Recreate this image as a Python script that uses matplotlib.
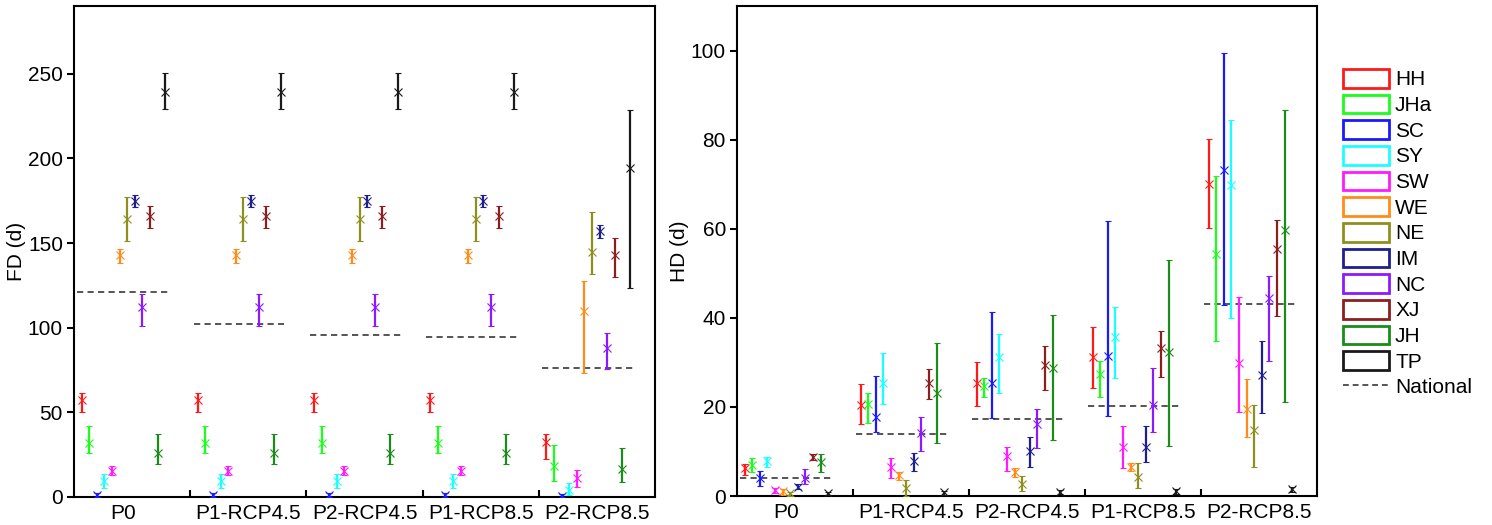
import matplotlib.pyplot as plt
from matplotlib.patches import Patch
from matplotlib.lines import Line2D
import numpy as np

plt.rcParams['font.family'] = ['Liberation Sans', 'DejaVu Sans']

# scenarios and regions
scenarios = ["P0", "P1-RCP4.5", "P2-RCP4.5", "P1-RCP8.5", "P2-RCP8.5"]
regions = ["HH", "JHa", "SC", "SY", "SW", "WE", "NE", "IM", "NC", "XJ", "JH", "TP"]
region_colors = ["#ff1a1a", "#1aff1a", "#1a1aff", "#1affff", "#ff1aff", "#ff8c1a",
                 "#8f8f1f", "#1f1f8f", "#8c1aff", "#8b1f1f", "#1a8c1a", "#1a1a1a"]

# FD (d): mean, lower, upper per region (rows) x scenario (cols)
fd_mid = [
    [57.0, 57.0, 57.0, 57.0, 32.7],
    [32.0, 32.0, 32.0, 32.0, 18.3],
    [1.0, 1.0, 1.0, 1.0, 0.6],
    [9.4, 9.4, 9.4, 9.4, 4.1],
    [15.4, 15.4, 15.4, 15.4, 11.0],
    [142.7, 142.7, 142.7, 142.7, 109.8],
    [164.0, 164.0, 164.0, 164.0, 144.9],
    [174.8, 174.8, 174.8, 174.8, 157.0],
    [112.2, 112.2, 112.2, 112.2, 88.2],
    [166.0, 166.0, 166.0, 166.0, 142.9],
    [26.2, 26.2, 26.2, 26.2, 16.3],
    [239.4, 239.4, 239.4, 239.4, 194.5],
]
fd_lo = [
    [50.0, 50.0, 50.0, 50.0, 22.2],
    [26.2, 26.2, 26.2, 26.2, 9.4],
    [0.0, 0.0, 0.0, 0.0, 0.0],
    [5.5, 5.5, 5.5, 5.5, 1.2],
    [13.0, 13.0, 13.0, 13.0, 5.9],
    [138.4, 138.4, 138.4, 138.4, 73.4],
    [151.2, 151.2, 151.2, 151.2, 131.9],
    [171.5, 171.5, 171.5, 171.5, 152.8],
    [101.0, 101.0, 101.0, 101.0, 75.8],
    [158.7, 158.7, 158.7, 158.7, 129.9],
    [19.7, 19.7, 19.7, 19.7, 8.9],
    [229.0, 229.0, 229.0, 229.0, 123.6],
]
fd_hi = [
    [61.6, 61.6, 61.6, 61.6, 37.4],
    [41.9, 41.9, 41.9, 41.9, 30.5],
    [2.2, 2.2, 2.2, 2.2, 1.5],
    [13.4, 13.4, 13.4, 13.4, 8.3],
    [18.3, 18.3, 18.3, 18.3, 15.7],
    [146.3, 146.3, 146.3, 146.3, 127.6],
    [177.2, 177.2, 177.2, 177.2, 168.5],
    [178.1, 178.1, 178.1, 178.1, 160.4],
    [119.7, 119.7, 119.7, 119.7, 96.7],
    [171.9, 171.9, 171.9, 171.9, 152.8],
    [37.4, 37.4, 37.4, 37.4, 29.1],
    [250.2, 250.2, 250.2, 250.2, 228.3],
]
fd_national = [121.0, 102.0, 95.7, 94.7, 76.2]

# HD (d)
hd_mid = [
    [6.2, 20.4, 25.3, 31.1, 70.1],
    [7.0, 20.7, 24.6, 27.5, 54.3],
    [4.0, 17.8, 25.3, 31.4, 73.2],
    [7.9, 25.3, 31.3, 35.8, 69.8],
    [1.3, 6.4, 9.0, 11.1, 29.8],
    [1.1, 4.7, 5.5, 6.6, 19.5],
    [0.6, 1.9, 2.8, 4.3, 14.8],
    [2.1, 7.9, 10.2, 11.1, 27.2],
    [4.0, 14.1, 16.2, 20.4, 44.4],
    [8.7, 25.4, 29.4, 33.2, 55.4],
    [7.7, 23.1, 28.7, 32.4, 59.7],
    [0.6, 0.8, 1.0, 1.1, 1.5],
]
hd_lo = [
    [4.7, 16.2, 20.2, 24.2, 60.1],
    [5.5, 16.3, 22.3, 22.3, 34.9],
    [2.2, 14.3, 17.4, 18.0, 42.9],
    [6.4, 20.7, 23.1, 26.4, 39.9],
    [0.7, 4.0, 5.7, 6.2, 18.9],
    [0.3, 3.6, 4.3, 5.6, 13.3],
    [0.0, 0.0, 1.2, 1.9, 6.6],
    [1.5, 5.7, 6.4, 7.7, 18.7],
    [2.7, 10.0, 10.7, 14.4, 30.4],
    [8.1, 21.7, 23.8, 26.8, 40.4],
    [5.5, 12.0, 12.6, 11.2, 21.2],
    [0.2, 0.3, 0.4, 0.5, 0.8],
]
hd_hi = [
    [7.2, 25.1, 30.0, 38.0, 80.1],
    [8.5, 23.1, 26.4, 30.3, 71.9],
    [5.7, 26.9, 41.4, 61.8, 99.4],
    [8.7, 32.2, 36.3, 42.5, 84.3],
    [1.9, 8.5, 11.1, 15.7, 44.6],
    [1.6, 5.5, 6.2, 7.5, 26.2],
    [1.0, 3.6, 4.5, 7.5, 20.4],
    [2.7, 9.6, 13.3, 15.7, 34.7],
    [6.0, 17.7, 19.5, 28.8, 49.4],
    [9.4, 28.4, 33.7, 37.0, 62.0],
    [9.4, 34.3, 40.6, 53.0, 86.7],
    [1.0, 1.2, 1.4, 1.5, 2.0],
]
hd_national = [4.1, 13.9, 17.3, 20.3, 43.1]

W, H = 1492, 525
fig = plt.figure(figsize=(W / 100, H / 100), dpi=100)
ax1 = fig.add_axes([74 / W, 28 / H, 581 / W, 491 / H])
ax2 = fig.add_axes([737 / W, 29 / H, 580 / W, 490 / H])

FS = 15
offsets = 0.065 + 0.0655 * np.arange(len(regions))
label_pos = [0.42, 1.5, 2.5, 3.5, 4.5]


def draw_panel(ax, mid, lo, hi, national, ylim, yticks, ylabel):
    for i, reg in enumerate(regions):
        x = np.arange(len(scenarios)) + offsets[i]
        m = np.array(mid[i])
        err = [m - np.array(lo[i]), np.array(hi[i]) - m]
        ax.errorbar(x, m, yerr=err, fmt='x', color=region_colors[i], ecolor=region_colors[i],
                    elinewidth=1.6, capsize=2.2, capthick=1.2, markersize=6,
                    markeredgewidth=0.8, zorder=3)
    for g, v in enumerate(national):
        ax.plot([g + 0.03, g + 0.81], [v, v], linestyle=(0, (3.2, 2.2)), color='#555555',
                linewidth=1.4, zorder=2)
    ax.set_xlim(0, 5)
    ax.set_ylim(*ylim)
    ax.set_yticks(yticks)
    ax.set_xticks([1, 2, 3, 4])
    ax.set_xticklabels([])
    ax.set_xticks(label_pos, minor=True)
    ax.set_xticklabels(scenarios, minor=True)
    ax.tick_params(axis='x', which='major', direction='in', length=5, width=1.5)
    ax.tick_params(axis='x', which='minor', length=0, pad=5, labelsize=FS)
    ax.tick_params(axis='y', direction='out', length=5, width=1.5, labelsize=FS, pad=3)
    for s in ax.spines.values():
        s.set_linewidth(1.5)
    ax.set_ylabel(ylabel, fontsize=FS)
    ax.yaxis.set_label_coords(-0.083, 0.5)


draw_panel(ax1, fd_mid, fd_lo, fd_hi, fd_national, (0, 290), [0, 50, 100, 150, 200, 250], "FD (d)")
draw_panel(ax2, hd_mid, hd_lo, hd_hi, hd_national, (0, 110), [0, 20, 40, 60, 80, 100], "HD (d)")

handles = [Patch(facecolor='white', edgecolor=c, linewidth=2) for c in region_colors]
handles.append(Line2D([0], [0], linestyle=(0, (3, 2)), color='#555555', linewidth=1.4))
fig.legend(handles, regions + ["National"], loc='upper left',
           bbox_to_anchor=(1343 / W, 1 - 69 / H), frameon=False, fontsize=FS,
           handlelength=2.2, handleheight=1.0, labelspacing=0.25, handletextpad=0.3,
           borderpad=0, borderaxespad=0)

fig.savefig("out.png", dpi=100)
